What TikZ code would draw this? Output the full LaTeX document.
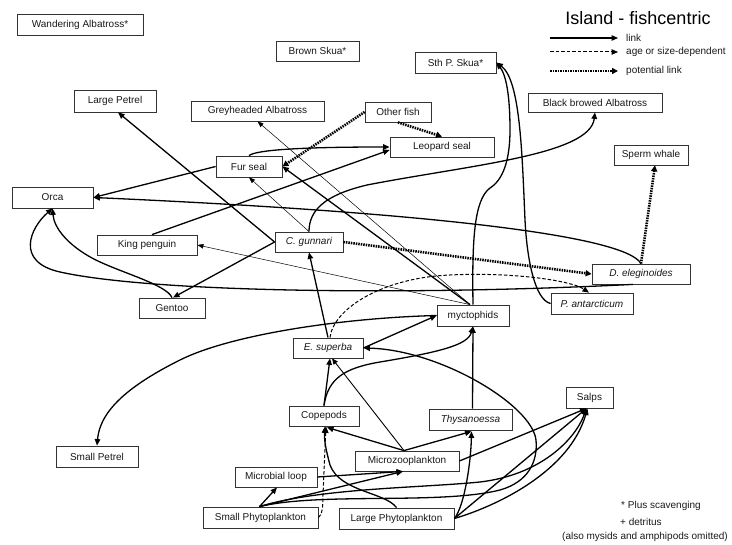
\documentclass[tikz,border=0pt]{standalone}
\usepackage{fontspec}
\setmainfont{Liberation Sans}
\usetikzlibrary{arrows.meta}
\begin{document}
\begin{tikzpicture}[x=1pt,y=-1pt,
  box/.style={draw=black!80, line width=0.8pt, fill=white, inner sep=0pt,
    font=\fontsize{10}{12}\selectfont, text=black!90},
  lbl/.style={inner sep=0pt, font=\fontsize{10}{12}\selectfont, text=black!90},
  lnk/.style={line width=1.3pt, -{Triangle[length=6.5pt,width=5.5pt]}},
  mid/.style={line width=0.9pt, -{Triangle[length=6pt,width=5pt]}},
  thinlnk/.style={line width=0.5pt, -{Triangle[length=6pt,width=4.5pt]}},
  agedep/.style={line width=1pt, dash pattern=on 3.5pt off 2pt, -{Triangle[length=6.5pt,width=5.5pt]}},
  potential/.style={line width=2.6pt, dash pattern=on 1.5pt off 1pt, -{Triangle[length=6pt,width=6pt]}},
]
\useasboundingbox (0,0) rectangle (732,545);

% ---- title and legend ----
\node[inner sep=0pt, font=\fontsize{18}{20}\selectfont] (title) at (638,18) {Island - fishcentric};
\coordinate (la1) at (550,38);  \coordinate (lb1) at (618,38);
\coordinate (la2) at (550,52);  \coordinate (lb2) at (618,52);
\coordinate (la3) at (550,71);  \coordinate (lb3) at (618,71);
\draw[lnk] (la1) -- (lb1);
\draw[agedep] (la2) -- (lb2);
\draw[potential] (la3) -- (lb3);
\node[lbl, anchor=west] (t1) at (626,38) {link};
\node[lbl, anchor=west] (t2) at (626,52) {age or size-dependent};
\node[lbl, anchor=west] (t3) at (626,71) {potential link};

% ---- notes ----
\node[lbl, anchor=west] (n1) at (621,506) {* Plus scavenging};
\node[lbl, anchor=west] (n2) at (620,522) {+ detritus};
\node[lbl] (n3) at (645,537) {(also mysids and amphipods omitted)};

% ---- species / groups ----
\node[box, minimum width=126, minimum height=21] (wand) at (80,24.5) {Wandering Albatross*};
\node[box, minimum width=83, minimum height=20] (brown) at (317.5,51) {Brown Skua*};
\node[box, minimum width=82, minimum height=22] (lpetrel) at (115,101) {Large Petrel};
\node[box, minimum width=133, minimum height=20] (grey) at (257.5,111) {Greyheaded Albatross};
\node[box, minimum width=66, minimum height=21] (fur) at (249,166.5) {Fur seal};
\node[box, minimum width=81, minimum height=21] (sthp) at (455.5,62.5) {Sth P. Skua*};
\node[box, minimum width=66, minimum height=20] (other) at (398,112) {Other fish};
\node[box, minimum width=134, minimum height=19] (black) at (595,102.5) {Black browed Albatross};
\node[box, minimum width=104, minimum height=20] (leopard) at (442,147) {Leopard seal};
\node[box, minimum width=74, minimum height=20] (sperm) at (651,155) {Sperm whale};
\node[box, minimum width=81, minimum height=21] (orca) at (52.5,197.5) {Orca};
\node[box, minimum width=100, minimum height=20] (king) at (147,245) {King penguin};
\node[box, minimum width=68, minimum height=20] (gunnari) at (309,242) {\itshape C. gunnari};
\node[box, minimum width=66, minimum height=20] (gentoo) at (172,308) {Gentoo};
\node[box, minimum width=98, minimum height=20] (deleg) at (641,274) {\itshape D. eleginoides};
\node[box, minimum width=82, minimum height=21] (pant) at (592,303.5) {\itshape P. antarcticum};
\node[box, minimum width=72, minimum height=21] (myct) at (473,315.5) {myctophids};
\node[box, minimum width=70, minimum height=20] (esup) at (328,348) {\itshape E. superba};
\node[box, minimum width=70, minimum height=20] (cope) at (324,416) {Copepods};
\node[box, minimum width=83, minimum height=21] (thys) at (470.5,419.5) {\itshape Thysanoessa};
\node[box, minimum width=47, minimum height=21] (salps) at (589.5,397.5) {Salps};
\node[box, minimum width=104, minimum height=20] (microzoo) at (407,461) {Microzooplankton};
\node[box, minimum width=82, minimum height=20] (microbial) at (276,477) {Microbial loop};
\node[box, minimum width=115, minimum height=21] (smallphy) at (260.5,517.5) {Small Phytoplankton};
\node[box, minimum width=115, minimum height=21] (largephy) at (396.5,518.5) {Large Phytoplankton};
\node[box, minimum width=82, minimum height=21] (spetrel) at (97,456.5) {Small Petrel};

% ---- predators of fish ----
\draw[lnk] (gunnari.west) -- ([shift={(3,0)}]lpetrel.south);
\draw[lnk] (gunnari.west) -- ([shift={(1,0)}]gentoo.north);
\draw[thinlnk] ([shift={(-3,0)}]myct.north) -- (grey.south);
\draw[lnk] ([shift={(-3,0)}]myct.north) -- (fur.east);
\draw[thinlnk] ([shift={(-3,0)}]myct.north) -- (king.east);
\draw[thinlnk] (gunnari.north) -- (fur.south);
\draw[lnk] (fur.west) -- (orca.east);
\draw[lnk] (deleg.north) .. controls (625,235) and (420,212) .. (orca.east);
\draw[lnk] ([shift={(-8,0)}]deleg.south) .. controls (400,296) and (150,292) .. (60,272)
  .. controls (15,262) and (30,228) .. (orca.south);
\draw[lnk] (gentoo.north) .. controls (166,284) and (118,272) .. (92,258)
  .. controls (68,245) and (54,228) .. (orca.south);
\draw[lnk] (fur.north) .. controls (256,150) and (300,147) .. (leopard.west);
\draw[lnk] ([shift={(5,0)}]king.north) -- ([shift={(0,3)}]leopard.west);
\draw[potential] (other.west) -- (fur.east);
\draw[potential] (other.south) -- (leopard.north);
\draw[lnk] (myct.north) .. controls (472,240) and (474,200) .. (490,188)
  .. controls (503,180) and (510,160) .. (510,130)
  .. controls (510,95) and (506,75) .. (sthp.east);
\draw[lnk] (pant.west) .. controls (535,300) and (527,260) .. (525,220)
  .. controls (522,150) and (520,80) .. (sthp.east);
\draw[lnk] (gunnari.north) .. controls (309,210) and (325,195) .. (367,185)
  .. controls (470,165) and (590,155) .. (black.south);
\draw[potential] (deleg.north) -- ([shift={(4,0)}]sperm.south);
\draw[potential] (gunnari.east) -- (deleg.west);
\draw[agedep] ([shift={(2,0)}]esup.north) .. controls (333,310) and (380,278) .. (450,275)
  .. controls (510,272) and (570,280) .. ([shift={(-3,0)}]pant.north);

% ---- krill, copepods and fish ----
\draw[lnk] (esup.north) -- (gunnari.south);
\draw[lnk] (esup.east) -- (myct.west);
\draw[lnk] (myct.west) .. controls (340,318) and (230,335) .. (180,360)
  .. controls (130,385) and (100,410) .. (spetrel.north);
\draw[lnk] (cope.north) -- ([shift={(2,0)}]esup.south);
\draw[lnk] (cope.north) .. controls (328,378) and (345,368) .. (380,362)
  .. controls (440,352) and (468,345) .. (myct.south);
\draw[lnk] ([shift={(2,0)}]thys.north) -- (myct.south);

% ---- plankton ----
\draw[mid] ([shift={(-3,0)}]microzoo.north) -- ([shift={(4,0)}]esup.south);
\draw[lnk] ([shift={(-3,0)}]microzoo.north) -- ([shift={(3,1)}]cope.south);
\draw[lnk] ([shift={(-3,0)}]microzoo.north) -- ([shift={(1,1)}]thys.south);
\draw[lnk] (microzoo.east) -- ([shift={(-3,0)}]salps.south);
\draw[lnk] ([shift={(-1,0)}]smallphy.north) -- ([shift={(1,0)}]microbial.south);
\draw[lnk] (microbial.east) -- ([shift={(-4,0)}]microzoo.south);
\draw[lnk] ([shift={(-1,0)}]smallphy.north) -- ([shift={(-4,0)}]microzoo.south);
\draw[lnk] ([shift={(-1,0)}]smallphy.north) .. controls (320,488) and (420,488) .. (480,482)
  .. controls (540,475) and (575,440) .. ([shift={(-3,0)}]salps.south);
\draw[lnk] ([shift={(-1,0)}]smallphy.north) .. controls (320,492) and (440,505) .. (500,490)
  .. controls (528,482) and (538,462) .. (536,440)
  .. controls (532,405) and (440,350) .. (esup.east);
\draw[agedep] (smallphy.east) .. controls (322,515) and (323,508) .. (323,495) -- ([shift={(2,0)}]cope.south);
\draw[lnk] (largephy.north) .. controls (385,492) and (340,492) .. (330,465)
  .. controls (326,450) and (324,440) .. ([shift={(1,0)}]cope.south);
\draw[lnk] (largephy.east) .. controls (465,505) and (471,460) .. ([shift={(1,1)}]thys.south);
\draw[lnk] (largephy.east) -- ([shift={(-3,0)}]salps.south);
\draw[lnk] (largephy.east) .. controls (500,505) and (570,470) .. ([shift={(-2,0)}]salps.south);
\end{tikzpicture}
\end{document}
